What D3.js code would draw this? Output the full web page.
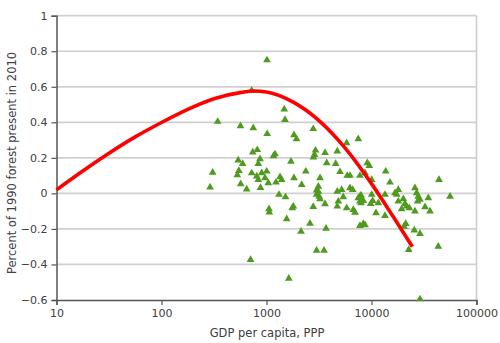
<!DOCTYPE html>
<html><head><meta charset="utf-8">
<script src="https://cdn.jsdelivr.net/npm/d3@7"></script>
<style>body{margin:0;background:#fff}svg{display:block}text{font-family:"DejaVu Sans",sans-serif;fill:#404040}</style>
</head><body><svg id="c" width="500" height="343"></svg>
<script>
// GDP per capita (PPP) of each country
const gdp = [290,307,343,527,538,545,565,593,568,647,705,723,723,740,748,807,817,835,835,867,877,900,968,1004,1011,1015,1040,1056,1064,1166,1205,1231,1345,1396,1315,1475,1501,1517,1557,1630,1710,1761,1800,1828,1828,1932,2163,2133,2366,2594,2787,2800,2864,2930,2787,3000,3172,3000,3236,3119,3236,3532,3608,3608,3743,3689,4560,4721,4721,4830,4721,5012,5200,5383,5800,5875,6237,6237,6620,6714,6966,7480,7762,7762,7762,7943,8356,7762,8356,8670,8670,9120,9530,9820,10044,11040,11610,13450,13450,13650,15000,16750,17990,19380,20080,20830,20410,21190,22610,22910,25570,25940,26920,27870,28970,25940,28970,28970,32360,34750,36060,43250,43950,55980,17990,21580,27480,17380,10270,7480,7943,10044,5800,3119,3000];
// Share of 1990 forest present in 2010 (change)
const forest = [0.035,0.118,0.404,0.104,0.187,0.128,0.379,0.167,0.053,0.023,-0.374,0.579,0.114,0.232,0.368,0.096,0.245,0.167,0.077,0.193,0.032,0.115,0.087,0.124,0.750,0.335,0.059,-0.088,-0.106,0.210,0.221,0.062,0.092,0.077,-0.007,0.474,0.415,-0.021,-0.144,-0.479,0.180,-0.082,-0.073,0.329,0.087,0.306,0.049,-0.214,0.124,-0.169,0.363,0.204,0.218,0.242,-0.075,0.018,-0.017,-0.321,0.087,0.039,-0.032,-0.321,0.228,-0.060,0.171,-0.197,0.167,0.237,0.011,-0.045,-0.073,0.121,0.021,-0.020,0.284,0.100,0.100,0.030,0.021,-0.092,-0.107,0.306,0.100,-0.017,-0.045,-0.054,-0.041,-0.182,-0.171,-0.178,0.115,0.171,0.156,-0.058,0.077,-0.110,-0.054,-0.007,-0.126,0.124,0.062,0.002,0.021,-0.088,-0.032,-0.058,-0.186,-0.171,-0.317,-0.082,-0.208,0.030,0.002,-0.017,-0.035,-0.101,-0.227,-0.595,-0.077,-0.026,-0.101,-0.299,0.077,-0.017,-0.045,-0.073,-0.045,-0.007,-0.041,-0.026,-0.011,-0.007,-0.082,0.010,-0.007];
// Fitted trend line
const trendGdp = [10,17.8,31.6,56.2,100,178,316,562,760,1000,1780,3160,5620,10000,15850,24500];
const trendVal = [0.02,0.126,0.226,0.318,0.399,0.473,0.533,0.567,0.576,0.571,0.515,0.41,0.255,0.055,-0.125,-0.30];
const xTicks = [10,100,1000,10000,100000];
const yTicks = [-0.6,-0.4,-0.2,0,0.2,0.4,0.6,0.8,1];
const xTitle = "GDP per capita, PPP";
const yTitle = "Percent of 1990 forest present in 2010";

const svg = d3.select("#c");
const L=56.5,R=476.5,T=15.7,B=300;
const x = d3.scaleLog().domain([10,100000]).range([L,R]);
const y = d3.scaleLinear().domain([-0.6,1]).range([B,T]);

// gridlines
svg.append("g").selectAll("line").data(yTicks.filter(v=>v>-0.6)).join("line")
  .attr("x1",L).attr("x2",R).attr("y1",d=>y(d)).attr("y2",d=>y(d))
  .attr("stroke","#d0d0d0").attr("stroke-width",1.7);
svg.append("line").attr("x1",R).attr("x2",R).attr("y1",T).attr("y2",B)
  .attr("stroke","#d0d0d0").attr("stroke-width",1.7);

// axes
const fmtY = d => d===0?"0":d3.format("")(+d.toFixed(1));
const ya = svg.append("g").attr("transform",`translate(${L},0)`)
  .call(d3.axisLeft(y).tickValues(yTicks).tickSize(5).tickPadding(4).tickFormat(fmtY));
const xa = svg.append("g").attr("transform",`translate(0,${B})`)
  .call(d3.axisBottom(x).tickValues(xTicks).tickSize(5).tickPadding(4).tickFormat(d3.format("d")));
[ya,xa].forEach(g=>{
  g.selectAll("path").attr("stroke","#555").attr("stroke-width",1.5);
  g.selectAll("line").attr("stroke","#555").attr("stroke-width",1.2);
  g.selectAll("text").attr("fill","#404040").style("font-size","11px").style("font-family","DejaVu Sans, sans-serif");
});

// points
const pts = gdp.map((g,i)=>({g,v:forest[i]}));
svg.append("g").selectAll("path").data(pts).join("path")
  .attr("d",d3.symbol(d3.symbolTriangle,26))
  .attr("transform",d=>`translate(${x(d.g)},${y(d.v)})`)
  .attr("fill","#4f9a1f");

// trend line
const tr = trendGdp.map((g,i)=>[g,trendVal[i]]);
svg.append("path").datum(tr)
  .attr("d",d3.line().x(d=>x(d[0])).y(d=>y(d[1])).curve(d3.curveMonotoneX))
  .attr("fill","none").attr("stroke","#ff0000").attr("stroke-width",3.6).attr("stroke-linecap","butt");

// titles
svg.append("text").attr("x",(L+R)/2+0.5).attr("y",337).attr("text-anchor","middle")
  .style("font-size","11.5px").text(xTitle);
svg.append("text").attr("transform","translate(16,163) rotate(-90)").attr("text-anchor","middle")
  .style("font-size","11.5px").text(yTitle);
</script></body></html>
